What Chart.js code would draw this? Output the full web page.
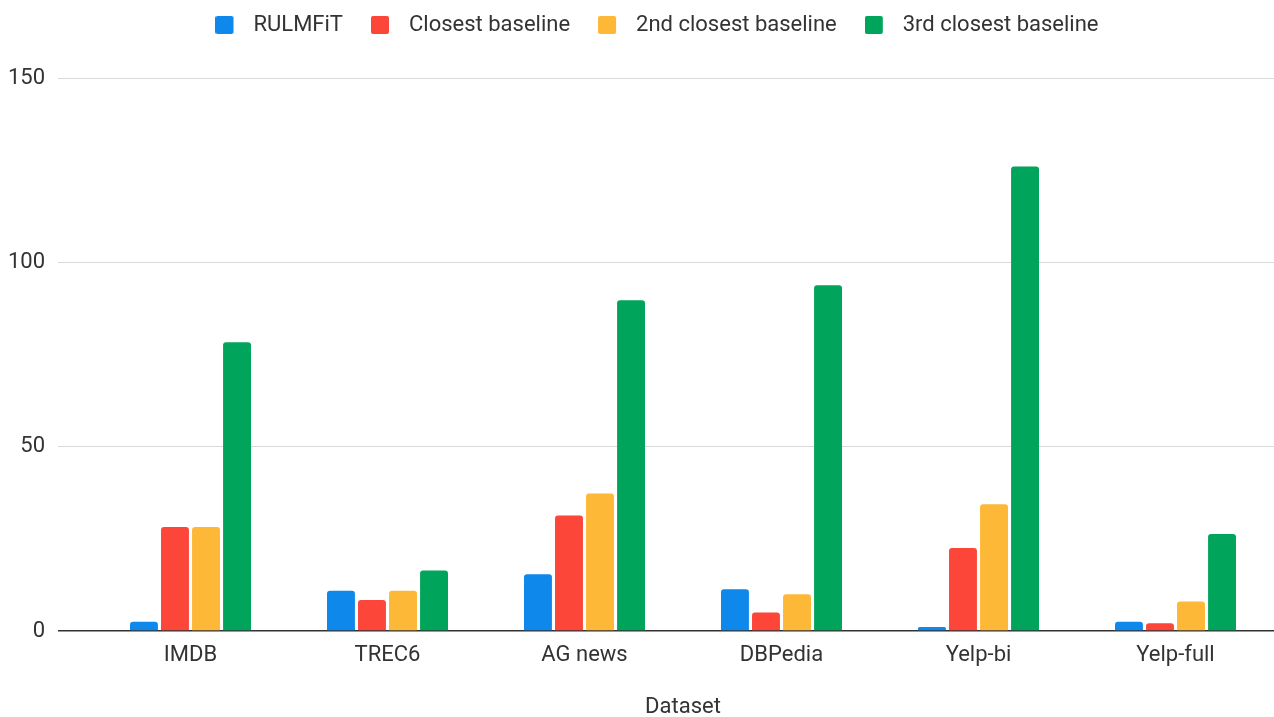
<!DOCTYPE html>
<html>
<head>
<meta charset="utf-8">
<script src="https://cdn.jsdelivr.net/npm/chart.js@4/dist/chart.umd.min.js"></script>
<style>
  html, body { margin: 0; padding: 0; background: #ffffff; }
  #wrap { width: 1274px; height: 717px; position: relative; }
</style>
</head>
<body>
<div id="wrap"><canvas id="chart"></canvas></div>
<script>
// Datasets on the category axis
const categories = ['IMDB', 'TREC6', 'AG news', 'DBPedia', 'Yelp-bi', 'Yelp-full'];

// One value per dataset, per method
const rulmfit        = [2.5, 10.9, 15.4, 11.3, 1.1, 2.5];
const closest        = [28.2, 8.4, 31.3, 5.0, 22.5, 2.1];
const secondClosest  = [28.2, 10.9, 37.3, 10.0, 34.4, 8.0];
const thirdClosest   = [78.3, 16.4, 89.7, 93.8, 126.0, 26.3];

const seriesNames = ['RULMFiT', 'Closest baseline', '2nd closest baseline', '3rd closest baseline'];
const yTicks = [0, 50, 100, 150];
const xTitle = 'Dataset';

const colors = ['#0e88eb', '#fb4639', '#feb838', '#00a45a'];
const FONT = 'Roboto, "Liberation Sans", Arial, sans-serif';
const TEXT = '#333';

// Legend swatch: a small rounded square on the left of a wider transparent tile,
// so the gap between swatch and label text can be set freely.
function swatch(color) {
  const c = document.createElement('canvas');
  c.width = 27; c.height = 18;
  const g = c.getContext('2d');
  g.fillStyle = color;
  g.beginPath();
  if (g.roundRect) g.roundRect(0, 0, 18, 18, 2); else g.rect(0, 0, 18, 18);
  g.fill();
  return c;
}

// Nudge the legend row a little to the right of the canvas centre.
const legendOffset = {
  id: 'legendOffset',
  afterLayout(chart) {
    const lg = chart.legend;
    if (lg) { lg.left += 20; lg.right += 20; }
  }
};

const seriesValues = [rulmfit, closest, secondClosest, thirdClosest];
const datasets = seriesNames.map((name, i) => ({
  label: name,
  data: seriesValues[i],
  backgroundColor: colors[i],
  borderWidth: 0,
  borderRadius: { topLeft: 3, topRight: 3, bottomLeft: 0, bottomRight: 0 },
  borderSkipped: 'bottom',
  barPercentage: 0.9,
  categoryPercentage: 0.63,
  pointStyle: swatch(colors[i])
}));

new Chart(document.getElementById('chart'), {
  type: 'bar',
  data: { labels: categories, datasets },
  plugins: [legendOffset],
  options: {
    responsive: true,
    maintainAspectRatio: false,
    animation: false,
    layout: { padding: { top: -14, left: 0, right: 0, bottom: 0 } },
    plugins: {
      tooltip: { enabled: false },
      legend: {
        position: 'top',
        align: 'center',
        labels: {
          usePointStyle: true,
          pointStyleWidth: 27,
          boxHeight: 18,
          padding: 28,
          color: TEXT,
          font: { family: FONT, size: 22 }
        }
      }
    },
    scales: {
      x: {
        type: 'category',
        position: 'bottom',
        grid: { display: false },
        border: { display: false },
        ticks: { color: TEXT, font: { family: FONT, size: 22 }, padding: 3, maxRotation: 0 },
        title: {
          display: true,
          text: xTitle,
          color: TEXT,
          font: { family: FONT, size: 22, lineHeight: 0.9 },
          padding: 0
        },
        afterFit(scale) { scale.height = 86; }
      },
      topGap: {
        type: 'category',
        position: 'top',
        display: true,
        grid: { display: false },
        border: { display: false },
        ticks: { display: false },
        afterFit(scale) { scale.height = 32; }
      },
      y: {
        type: 'linear',
        min: 0,
        max: 150,
        afterBuildTicks(scale) { scale.ticks = yTicks.map(v => ({ value: v })); },
        border: { display: false },
        grid: {
          color: ctx => (ctx.tick && ctx.tick.value === 0) ? '#333' : '#d9d9d9',
          lineWidth: ctx => (ctx.tick && ctx.tick.value === 0) ? 1.6 : 1,
          drawTicks: true,
          tickLength: 34
        },
        ticks: { color: TEXT, font: { family: FONT, size: 22 }, padding: 13 },
        afterFit(scale) { scale.width = 92; }
      }
    }
  }
});
</script>
</body>
</html>
